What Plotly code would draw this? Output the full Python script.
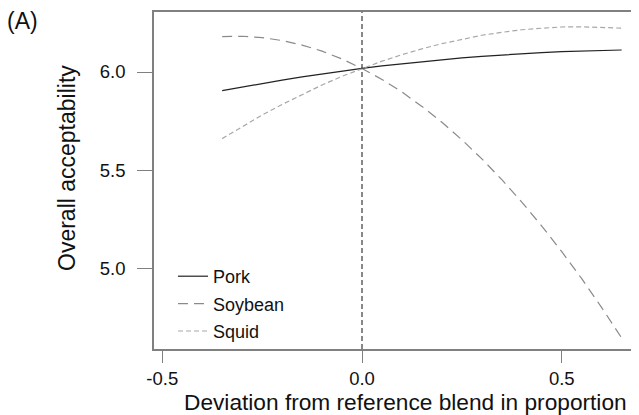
import plotly.graph_objects as go

# Data
deviation = [-0.35, -0.30, -0.25, -0.20, -0.15, -0.10, -0.05, 0.00, 0.05, 0.10, 0.15,
             0.20, 0.25, 0.30, 0.35, 0.40, 0.45, 0.50, 0.55, 0.60, 0.65]
pork = [5.905, 5.924, 5.941, 5.959, 5.975, 5.990, 6.004, 6.018, 6.031, 6.042, 6.053,
        6.063, 6.072, 6.080, 6.087, 6.094, 6.099, 6.104, 6.107, 6.110, 6.112]
soybean = [6.180, 6.182, 6.175, 6.160, 6.137, 6.106, 6.066, 6.018, 5.962, 5.898, 5.825,
           5.744, 5.655, 5.558, 5.452, 5.338, 5.216, 5.086, 4.948, 4.801, 4.646]
squid = [5.661, 5.723, 5.781, 5.835, 5.886, 5.934, 5.978, 6.018, 6.055, 6.088, 6.118,
         6.144, 6.167, 6.187, 6.202, 6.215, 6.223, 6.229, 6.230, 6.228, 6.223]
series_names = ["Pork", "Soybean", "Squid"]
x_ticks = [-0.5, 0.0, 0.5]
y_ticks = [5.0, 5.5, 6.0]

# The page body adds an 8px margin; size the figure so the visible window matches.
OFF = 8
W, H = 639 - OFF, 415 - OFF
ML, MR, MT = 154 - OFF, 0, 12 - OFF
MB = H - (349 - OFF)
PW, PH = W - ML - MR, H - MT - MB

def px_x(p):  # screen px -> paper
    return (p - 154) / PW

def px_y(p):
    return 1 - (p - 12) / PH

FONT = "Liberation Sans, Arial, sans-serif"
TXT = "#111111"

fig = go.Figure()
styles = [
    dict(color="#222222", width=1.2, dash="solid"),
    dict(color="#8a8a8a", width=1.2, dash="10px,6px"),
    dict(color="#a8a8a8", width=1.2, dash="5px,3px"),
]
for i, (name, ys) in enumerate(zip(series_names, [pork, soybean, squid])):
    fig.add_trace(go.Scatter(x=deviation, y=ys, mode="lines", name=name,
                             line=styles[i], legendgroup=name))

fig.add_shape(type="line", x0=0, x1=0, y0=0, y1=1, xref="x", yref="paper",
              line=dict(color="#111111", width=1, dash="5px,3px"))

fig.update_layout(
    width=W, height=H,
    margin=dict(l=ML, r=MR, t=MT, b=MB, pad=0, autoexpand=False),
    paper_bgcolor="white", plot_bgcolor="white",
    font=dict(family=FONT, size=18, color=TXT),
    showlegend=True,
    legend=dict(x=px_x(173), y=px_y(258), xanchor="left", yanchor="top",
                bgcolor="rgba(0,0,0,0)", borderwidth=0,
                font=dict(size=18, family=FONT, color=TXT),
                tracegroupgap=1, itemwidth=30),
    xaxis=dict(range=[(154 - 362) / 399.5, (639 - 362) / 399.5],
               tickvals=x_ticks, ticktext=[f"{v:.1f}" for v in x_ticks],
               showgrid=False, zeroline=False, automargin=False,
               showline=True, linecolor="#808080", linewidth=1.5, mirror=True,
               ticks="outside", ticklen=12, tickcolor="#808080", tickwidth=1.2,
               ticklabelstandoff=0,
               tickfont=dict(size=18.5, family=FONT, color=TXT)),
    yaxis=dict(range=[6.0 - (349 - 72) / 196.5, 6.0 + (72 - 12) / 196.5],
               tickvals=y_ticks, ticktext=[f"{v:.1f}" for v in y_ticks],
               showgrid=False, zeroline=False, automargin=False,
               showline=True, linecolor="#808080", linewidth=1.5, mirror=False,
               ticks="outside", ticklen=15, tickcolor="#808080", tickwidth=1.2,
               ticklabelstandoff=8,
               tickfont=dict(size=18.5, family=FONT, color=TXT)),
)

fig.add_annotation(text="Deviation from reference blend in proportion",
                   xref="paper", yref="paper", x=px_x(405), y=px_y(402),
                   xanchor="center", yanchor="middle", showarrow=False,
                   font=dict(size=22.7, family=FONT, color=TXT))
fig.add_annotation(text="Overall acceptability", textangle=-90,
                   xref="paper", yref="paper", x=px_x(67), y=px_y(168),
                   xanchor="center", yanchor="middle", showarrow=False,
                   font=dict(size=23, family=FONT, color=TXT))
fig.add_annotation(text="(A)", xref="paper", yref="paper", x=px_x(22), y=px_y(21),
                   xanchor="center", yanchor="middle", showarrow=False,
                   font=dict(size=23, family=FONT, color=TXT))

fig.write_html("out.html")
